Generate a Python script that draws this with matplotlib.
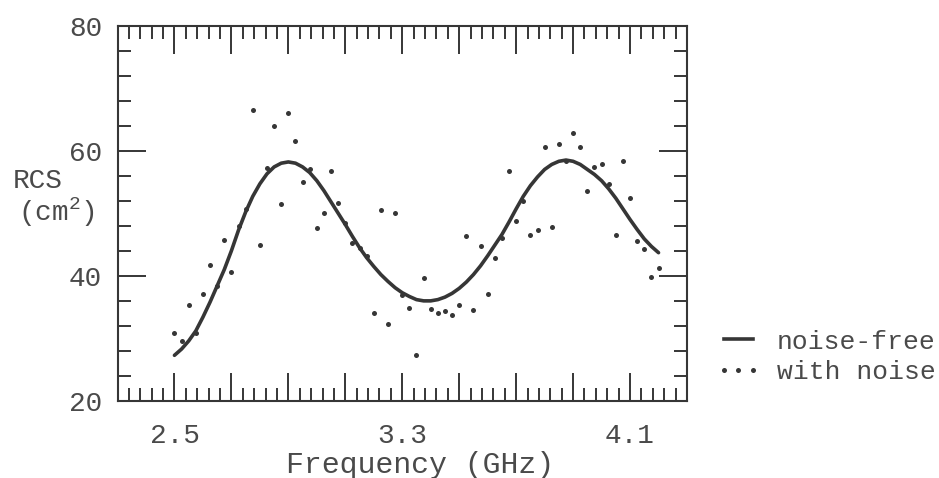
import numpy as np
import matplotlib
matplotlib.use("Agg")
import matplotlib.pyplot as plt
from matplotlib.ticker import MultipleLocator, FuncFormatter
from matplotlib.lines import Line2D

# ==========================
# Data
# ==========================

# noise-free curve, frequency in GHz
curve_freq = [2.500, 2.525, 2.550, 2.575, 2.600, 2.625, 2.650, 2.675, 2.700,
              2.725, 2.750, 2.775, 2.800, 2.825, 2.850, 2.875, 2.900, 2.925,
              2.950, 2.975, 3.000, 3.025, 3.050, 3.075, 3.100, 3.125, 3.150,
              3.175, 3.200, 3.225, 3.250, 3.275, 3.300, 3.325, 3.350, 3.375,
              3.400, 3.425, 3.450, 3.475, 3.500, 3.525, 3.550, 3.575, 3.600,
              3.625, 3.650, 3.675, 3.700, 3.725, 3.750, 3.775, 3.800, 3.825,
              3.850, 3.875, 3.900, 3.925, 3.950, 3.975, 4.000, 4.025, 4.050,
              4.075, 4.100, 4.125, 4.150, 4.175, 4.200]
curve_rcs = [27.3, 28.3, 29.6, 31.2, 33.4, 35.8, 38.4, 41.0, 44.0,
             47.3, 50.2, 52.7, 54.7, 56.3, 57.4, 58.0, 58.2, 58.0,
             57.4, 56.5, 55.2, 53.6, 51.8, 50.0, 48.2, 46.3, 44.5,
             42.9, 41.5, 40.2, 39.1, 38.1, 37.3, 36.7, 36.2, 36.0,
             36.0, 36.2, 36.6, 37.2, 38.0, 39.0, 40.2, 41.6, 43.2,
             44.9, 46.6, 48.6, 50.7, 52.7, 54.4, 55.8, 57.0, 57.8,
             58.3, 58.5, 58.3, 57.8, 57.0, 56.2, 55.2, 53.9, 52.4,
             50.7, 49.0, 47.4, 45.9, 44.7, 43.7]

# noisy samples
noise_freq = curve_freq
noise_rcs = [30.8, 29.6, 35.4, 30.8, 37.1, 41.7, 38.3, 45.7, 40.6,
             47.9, 50.6, 66.5, 45.0, 57.2, 64.0, 51.4, 66.0, 61.6,
             55.0, 57.0, 47.7, 50.0, 56.8, 51.7, 48.4, 45.3, 44.5,
             43.1, 34.1, 50.5, 32.3, 50.1, 36.9, 34.9, 27.4, 39.7,
             34.7, 34.1, 34.4, 33.7, 35.3, 46.3, 34.5, 44.8, 37.1,
             42.8, 46.0, 56.8, 48.7, 51.9, 46.6, 47.3, 60.6, 47.8,
             61.0, 58.3, 62.9, 60.6, 53.5, 57.4, 57.9, 54.6, 46.5,
             58.4, 52.5, 45.6, 44.3, 39.8, 41.3]

x_labels = [2.5, 3.3, 4.1]

# ==========================
# Style
# ==========================

plt.rcParams["font.family"] = ["Liberation Mono", "DejaVu Sans Mono"]
plt.rcParams["mathtext.default"] = "regular"

ink = "#363636"
txt = "#4a4a4a"

fig = plt.figure(figsize=(9.39, 4.78), dpi=100)
ax = fig.add_axes([117.5 / 939, 1 - 401 / 478, (687 - 117.5) / 939, (401 - 25.5) / 478])

ax.plot(curve_freq, curve_rcs, color=ink, linewidth=2.6,
        solid_capstyle="round", solid_joinstyle="round")
ax.plot(noise_freq, noise_rcs, linestyle="none", marker="o", markersize=3.6,
        color=ink, markeredgewidth=0)

ax.set_xlim(2.3, 4.3)
ax.set_ylim(20, 80)

for s in ax.spines.values():
    s.set_linewidth(1.5)
    s.set_color(ink)

# x ticks: long every 0.2 starting at 2.3, short every 0.04
ax.xaxis.set_major_locator(MultipleLocator(0.2, offset=0.1))
ax.xaxis.set_minor_locator(MultipleLocator(0.04, offset=0.02))
ax.xaxis.set_major_formatter(FuncFormatter(
    lambda v, p: f"{v:.1f}" if any(abs(v - l) < 1e-6 for l in x_labels) else ""))

ax.yaxis.set_major_locator(MultipleLocator(20))
ax.yaxis.set_minor_locator(MultipleLocator(4))

ax.tick_params(which="major", direction="in", length=20, width=1.4,
               color=ink, labelsize=20, labelcolor=txt, top=True, right=True)
ax.tick_params(which="minor", direction="in", length=9.5, width=1.4,
               color=ink, top=True, right=True)
ax.tick_params(axis="x", pad=16)
ax.tick_params(axis="y", pad=11)

ax.set_xlabel("Frequency (GHz)", fontsize=21.5, color=txt, labelpad=1.5,
              x=(420 - 117.5) / 569.5)

fig.text(38 / 939, 1 - 181 / 478, "RCS", fontsize=20, color=txt,
         ha="center", va="center")
fig.text(56 / 939, 1 - 212 / 478, "(cm$^2$)", fontsize=20, color=txt,
         ha="center", va="center")

# ==========================
# Legend
# ==========================

handles = [
    Line2D([], [], color=ink, linewidth=2.6),
    Line2D([], [], linestyle="none", marker="o", markersize=3.6, color=ink,
           markeredgewidth=0),
]
fig.legend(handles, ["noise-free", "with noise"], loc="center left",
           bbox_to_anchor=(716 / 939, 1 - 357 / 478), frameon=False,
           fontsize=19, labelcolor=txt, handlelength=1.7, handletextpad=0.6,
           labelspacing=0.25, borderpad=0, borderaxespad=0, numpoints=3)

fig.savefig("out.png", dpi=100)
